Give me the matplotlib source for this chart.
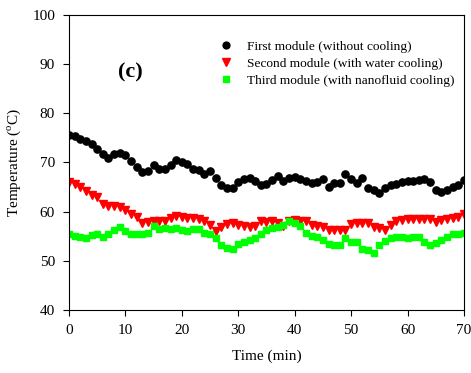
import numpy as np
import matplotlib
matplotlib.use("Agg")
import matplotlib.pyplot as plt

plt.rcParams['font.family'] = ['Liberation Serif', 'DejaVu Serif']
plt.rcParams['mathtext.fontset'] = 'custom'
plt.rcParams['mathtext.rm'] = 'Liberation Serif'

time_min = list(range(0, 71))

first_module = [75.6, 75.4, 74.7, 74.4, 73.7, 72.8, 71.7, 70.9, 71.7, 71.9,
                71.6, 70.2, 69.0, 68.0, 68.2, 69.4, 68.7, 68.7, 69.5, 70.4,
                70.1, 69.7, 68.7, 68.4, 67.7, 68.3, 66.8, 65.4, 64.8, 64.8,
                66.1, 66.7, 66.8, 66.3, 65.4, 65.6, 66.5, 67.3, 66.2, 66.8,
                67.0, 66.7, 66.2, 65.8, 66.1, 66.6, 65.0, 65.8, 65.9, 67.7,
                66.7, 65.8, 66.8, 64.8, 64.4, 63.8, 64.9, 65.4, 65.6, 66.0,
                66.2, 66.3, 66.5, 66.7, 66.1, 64.4, 63.9, 64.4, 65.0, 65.4,
                66.5]

second_module = [66.1, 65.6, 65.0, 64.1, 63.4, 62.9, 61.5, 61.2, 61.2, 61.0,
                 60.4, 59.5, 58.9, 57.7, 57.8, 58.0, 58.0, 58.0, 58.7, 59.2,
                 59.0, 58.7, 58.6, 58.4, 58.0, 57.3, 56.0, 56.9, 57.4, 57.6,
                 57.3, 57.1, 56.8, 57.1, 58.0, 57.8, 58.1, 57.6, 57.1, 58.0,
                 58.3, 58.0, 58.0, 57.3, 57.1, 56.8, 56.3, 56.3, 56.3, 56.3,
                 57.5, 57.6, 57.6, 57.6, 56.8, 56.6, 56.3, 57.3, 58.0, 58.2,
                 58.5, 58.5, 58.5, 58.5, 58.4, 57.8, 58.2, 58.4, 58.7, 59.0,
                 59.6]

third_module = [55.4, 55.0, 54.9, 54.6, 55.2, 55.5, 54.9, 55.5, 56.2, 56.9,
                56.0, 55.4, 55.4, 55.4, 55.7, 57.0, 56.4, 56.6, 56.5, 56.6,
                56.2, 56.1, 56.5, 56.4, 55.7, 55.5, 54.6, 53.3, 52.6, 52.3,
                53.4, 53.9, 54.2, 54.7, 55.5, 56.2, 56.7, 56.9, 57.2, 58.0,
                57.6, 57.1, 55.7, 55.1, 54.8, 54.2, 53.5, 53.3, 53.3, 54.7,
                53.9, 53.9, 52.4, 52.2, 51.6, 53.2, 54.1, 54.6, 54.8, 54.9,
                54.6, 54.8, 54.9, 53.9, 53.3, 53.6, 54.3, 54.9, 55.4, 55.5,
                55.7]

labels = ['First module (without cooling)',
          'Second module (with water cooling)',
          'Third module (with nanofluid cooling)']

fig = plt.figure(figsize=(4.71, 3.73), dpi=100)
ax = fig.add_axes([0.1465, 0.169, 0.8385, 0.791])

ax.plot(time_min, first_module, 'o', color='black', markersize=5.2, label=labels[0])
ax.plot(time_min, second_module, 'v', color='#ff0000', markersize=5.6, label=labels[1])
ax.plot(time_min, third_module, 's', color='#00ff00', markersize=4.6, label=labels[2])

ax.set_xlim(0, 70)
ax.set_ylim(40, 100)
ax.set_xticks(range(0, 71, 10))
ax.set_yticks(range(40, 101, 10))
ax.tick_params(direction='out', length=4, width=0.8, labelsize=11, pad=6)
for s in ax.spines.values():
    s.set_linewidth(0.8)

ax.set_xlabel('Time (min)', fontsize=11, labelpad=9)
ax.set_ylabel('Temperature ($^{\\rm o}$C)', fontsize=11, labelpad=7)

ax.text(0.155, 0.805, '(c)', transform=ax.transAxes, fontsize=16,
        fontweight='bold', ha='center', va='center')

ax.legend(loc='upper left', bbox_to_anchor=(0.355, 0.937), frameon=False,
          fontsize=9.6, handletextpad=0.8, labelspacing=0.36, borderpad=0,
          handlelength=1.5, markerscale=0.95)

fig.savefig('out.png', dpi=100)
